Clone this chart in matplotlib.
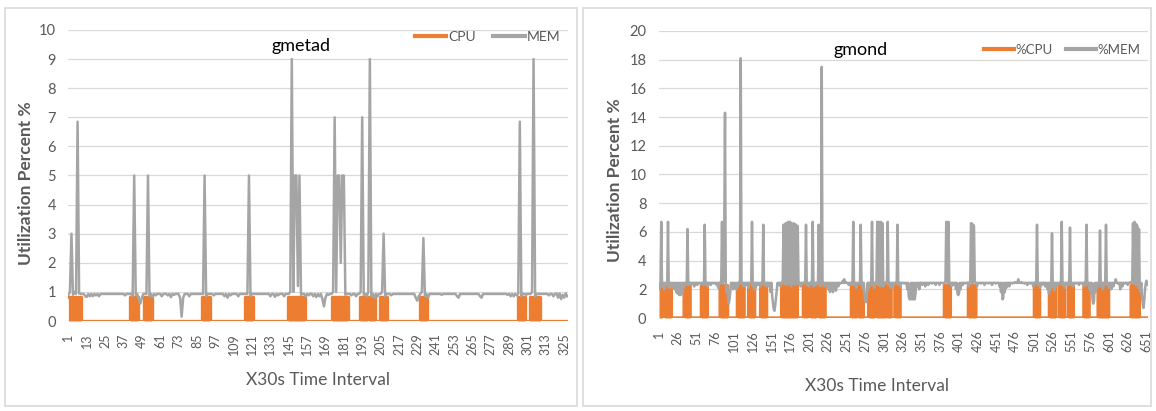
import numpy as np
import matplotlib.pyplot as plt
from matplotlib.patches import Rectangle

plt.rcParams['font.family'] = ['Lato', 'DejaVu Sans']

ORANGE = '#ED7D31'
GRAY = '#A5A5A5'
TXT = '#595959'

# ---- gmetad (left chart) ----
gmetad_n = 327
gmetad_mem_base = 0.93
gmetad_mem_idx = [1, 2, 3, 4, 5, 7, 8, 12, 13, 15, 17, 19, 21, 38, 43, 44, 45, 47, 48, 49, 53, 54,
                  56, 58, 62, 66, 68, 70, 74, 75, 76, 80, 90, 91, 96, 103, 105, 107, 112, 119, 120,
                  133, 136, 138, 142, 146, 147, 148, 149, 150, 151, 152, 153, 156, 158, 161, 163,
                  165, 167, 168, 169, 171, 174, 175, 176, 177, 178, 179, 180, 181, 182, 186, 189,
                  192, 193, 194, 196, 197, 198, 199, 201, 203, 206, 207, 208, 212, 228, 229, 230,
                  232, 233, 234, 236, 245, 255, 256, 270, 271, 288, 290, 292, 294, 296, 297, 300,
                  304, 305, 306, 315, 318, 320, 321, 322, 323, 324, 325, 326, 327]
gmetad_mem_val = [0.9, 1.0, 3.0, 0.9, 1.0, 6.85, 0.95, 0.85, 0.83, 0.85, 0.85, 0.88, 0.85, 0.88,
                  0.85, 5.0, 0.9, 0.75, 0.6, 0.8, 5.0, 0.85, 0.82, 0.88, 0.85, 0.88, 0.82, 0.9, 0.8,
                  0.15, 0.8, 0.85, 5.0, 0.85, 0.88, 0.85, 0.8, 0.88, 0.85, 5.0, 0.85, 0.85, 0.83,
                  0.88, 0.85, 1.0, 9.0, 1.0, 5.0, 5.0, 1.2, 5.0, 0.9, 0.85, 0.88, 0.85, 0.82, 0.85,
                  0.75, 0.5, 0.8, 0.9, 1.0, 7.0, 1.0, 5.0, 5.0, 2.0, 5.0, 5.0, 0.9, 0.88, 0.85, 1.0,
                  7.0, 0.9, 0.85, 1.0, 9.0, 0.85, 0.8, 0.85, 1.0, 3.0, 0.85, 0.88, 0.8, 0.7, 0.85,
                  1.0, 2.85, 0.85, 0.8, 0.9, 0.85, 0.8, 0.85, 0.8, 0.9, 0.85, 0.85, 0.88, 6.85, 0.85,
                  0.9, 1.0, 9.0, 0.85, 0.88, 0.85, 0.95, 0.8, 0.95, 0.75, 0.9, 0.8, 0.95, 0.85]
gmetad_cpu_level = 0.83
gmetad_cpu_start = [1, 42, 51, 89, 117, 145, 174, 192, 198, 205, 231, 295, 303]
gmetad_cpu_end = [9, 46, 55, 93, 121, 155, 183, 196, 201, 209, 235, 299, 309]
gmetad_ticks = list(range(1, 326, 12))

# ---- gmond (right chart) ----
gmond_n = 653
gmond_mem_base = 2.45
gmond_mem_idx = [1, 2, 3, 4, 5, 6, 8, 10, 12, 13, 14, 16, 18, 20, 22, 24, 26, 28, 30, 32, 34, 36, 38,
                 39, 40, 44, 48, 52, 56, 60, 62, 63, 66, 70, 74, 78, 80, 83, 84, 85, 86, 87, 88, 89,
                 90, 91, 92, 93, 94, 95, 96, 98, 100, 102, 104, 106, 109, 110, 111, 114, 117, 120,
                 124, 125, 126, 128, 130, 133, 136, 139, 140, 141, 144, 148, 150, 152, 153, 154, 155,
                 156, 157, 158, 160, 163, 166, 167, 168, 169, 170, 171, 172, 173, 174, 175, 176, 177,
                 178, 179, 180, 181, 182, 183, 184, 185, 186, 187, 190, 193, 196, 197, 198, 201, 204,
                 205, 206, 207, 210, 213, 214, 215, 216, 217, 218, 219, 221, 224, 227, 229, 231, 233,
                 235, 237, 240, 243, 246, 248, 250, 254, 258, 259, 260, 261, 264, 267, 269, 270, 271,
                 273, 275, 276, 277, 278, 280, 283, 284, 285, 286, 288, 290, 291, 292, 293, 294, 295,
                 296, 297, 298, 299, 300, 302, 305, 306, 307, 310, 313, 316, 318, 319, 320, 323, 328,
                 332, 334, 335, 336, 338, 340, 342, 343, 345, 348, 352, 356, 360, 365, 370, 375, 380,
                 383, 384, 385, 386, 387, 388, 391, 394, 397, 399, 400, 401, 403, 406, 410, 414, 416,
                 417, 418, 419, 420, 421, 422, 425, 430, 435, 440, 445, 450, 455, 457, 459, 460, 462,
                 464, 468, 472, 476, 480, 484, 488, 492, 496, 500, 504, 505, 506, 509, 512, 516, 519,
                 521, 523, 524, 525, 526, 528, 531, 534, 537, 538, 539, 542, 546, 548, 549, 550, 553,
                 557, 561, 565, 568, 570, 571, 572, 575, 577, 579, 580, 581, 583, 585, 588, 589, 590,
                 593, 595, 596, 597, 598, 601, 604, 607, 610, 613, 616, 619, 622, 626, 630, 632, 633,
                 634, 635, 636, 637, 638, 639, 640, 641, 642, 643, 645, 646, 647, 648, 649, 650, 651,
                 652, 653]
gmond_mem_val = [2.3, 2.0, 2.5, 6.7, 2.2, 2.4, 2.0, 2.3, 2.5, 6.7, 2.1, 2.2, 2.1, 2.3, 2.0, 1.8, 1.7,
                 1.6, 1.6, 1.7, 2.1, 2.3, 2.4, 6.2, 2.3, 2.3, 2.2, 2.3, 2.4, 2.3, 6.5, 2.3, 2.2, 2.3,
                 2.4, 2.3, 2.1, 2.4, 2.6, 6.7, 2.4, 2.6, 6.0, 14.3, 2.5, 1.8, 2.2, 1.5, 1.0, 1.3, 1.8,
                 2.2, 2.0, 2.1, 2.0, 2.2, 2.6, 18.1, 2.4, 2.2, 2.3, 2.1, 2.5, 6.7, 2.2, 2.0, 2.1, 2.3,
                 2.2, 2.6, 6.5, 2.3, 2.2, 2.2, 1.8, 1.5, 1.0, 0.6, 0.5, 0.9, 1.4, 1.9, 2.3, 2.2, 2.6,
                 6.5, 2.4, 6.5, 6.6, 2.3, 6.6, 6.7, 2.4, 6.6, 6.7, 2.2, 6.6, 6.5, 2.4, 6.6, 2.3, 6.5,
                 6.5, 2.4, 6.4, 2.3, 2.2, 2.4, 2.6, 6.5, 2.3, 2.2, 2.4, 2.6, 6.7, 2.2, 2.3, 2.5, 6.5,
                 2.4, 2.2, 2.6, 17.5, 2.5, 2.2, 2.3, 2.0, 1.8, 2.0, 1.8, 2.1, 1.9, 2.2, 2.4, 2.6, 2.7,
                 2.5, 2.3, 2.3, 2.6, 6.7, 2.3, 2.1, 2.4, 2.5, 6.5, 2.3, 2.0, 1.6, 1.2, 1.1, 1.5, 2.0,
                 2.3, 2.6, 6.7, 2.3, 2.1, 2.5, 2.6, 6.7, 2.3, 6.7, 6.6, 2.2, 6.7, 2.4, 6.6, 2.2, 2.4,
                 2.6, 6.7, 2.3, 2.1, 2.2, 2.4, 2.6, 6.5, 2.3, 2.2, 2.4, 2.0, 1.5, 1.3, 1.3, 1.3, 1.3,
                 1.3, 1.7, 2.2, 2.0, 2.3, 2.2, 2.3, 2.4, 2.3, 2.3, 2.4, 2.6, 6.7, 6.6, 2.4, 6.7, 2.5,
                 2.2, 2.3, 2.0, 1.7, 1.6, 1.7, 2.0, 2.3, 2.4, 2.2, 2.6, 6.6, 6.6, 2.4, 6.5, 6.4, 2.5,
                 2.2, 2.4, 2.3, 2.4, 2.3, 2.4, 2.2, 1.8, 1.3, 1.4, 1.8, 2.1, 2.2, 2.4, 2.5, 2.7, 2.5,
                 2.4, 2.3, 2.4, 2.2, 2.6, 6.5, 2.3, 2.1, 2.3, 2.2, 2.0, 1.7, 2.0, 2.4, 5.9, 2.2, 1.9,
                 2.2, 2.3, 2.6, 6.7, 2.3, 2.1, 2.3, 2.6, 6.3, 2.3, 2.2, 2.4, 2.3, 2.4, 2.2, 2.6, 6.5,
                 2.3, 2.0, 1.7, 1.3, 1.0, 1.2, 1.8, 2.1, 2.4, 6.1, 2.2, 2.0, 2.3, 2.6, 6.5, 2.3, 2.1,
                 2.0, 2.2, 2.7, 2.4, 2.0, 2.2, 2.4, 2.3, 2.5, 2.6, 6.6, 2.4, 6.7, 6.6, 2.3, 6.5, 6.4,
                 2.1, 6.2, 2.0, 1.8, 1.5, 1.0, 0.7, 1.2, 2.0, 2.4, 2.6, 2.3, 2.4]
gmond_cpu_level = 2.25
gmond_cpu_start = [1, 9, 35, 58, 83, 106, 121, 137, 165, 194, 203, 214, 258, 267, 281, 291, 305,
                   316, 382, 414, 502, 522, 535, 547, 568, 587, 631]
gmond_cpu_end = [5, 17, 42, 65, 92, 114, 128, 144, 185, 199, 210, 222, 264, 273, 288, 303, 310,
                 322, 389, 423, 508, 529, 541, 553, 574, 600, 641]
gmond_ticks = list(range(1, 652, 25))

W, H = 1156, 411
fig = plt.figure(figsize=(W / 100, H / 100), dpi=100)

# panel frames
for x0, x1 in [(5, 577), (583, 1151)]:
    fig.patches.append(Rectangle((x0 / W, 5 / H), (x1 - x0) / W, 398 / H, transform=fig.transFigure,
                                 fill=False, edgecolor='#d9d9d9', lw=1.2))


def build(n, base, idx, val, level, starts, ends):
    x = np.arange(1, n + 1)
    mem = np.full(n, base)
    mem[np.array(idx) - 1] = val
    cpu = np.zeros(n)
    for s, e in zip(starts, ends):
        cpu[s - 1:e] = level
    return x, cpu, mem


def draw(ax, x, cpu, mem, ymax, ystep, ticks, xmax):
    ax.fill_between(x, 0, cpu, color=ORANGE, lw=0, zorder=2, step='mid')
    l1, = ax.plot(x, cpu, color=ORANGE, lw=2.4, zorder=3, drawstyle='steps-mid')
    l2, = ax.plot(x, mem, color=GRAY, lw=1.8, zorder=4)
    ax.set_xlim(1, xmax)
    ax.set_ylim(0, ymax)
    ax.set_yticks(np.arange(0, ymax + 0.1, ystep))
    ax.set_xticks(ticks)
    ax.grid(axis='y', color='#d9d9d9', lw=0.9, zorder=0)
    ax.set_axisbelow(True)
    for sp in ax.spines.values():
        sp.set_visible(False)
    ax.tick_params(axis='y', length=0, labelsize=10.5, labelcolor=TXT, pad=9)
    ax.tick_params(axis='x', length=0, labelsize=9, labelcolor=TXT, pad=9, labelrotation=90)
    return l1, l2


x1, cpu1, mem1 = build(gmetad_n, gmetad_mem_base, gmetad_mem_idx, gmetad_mem_val,
                       gmetad_cpu_level, gmetad_cpu_start, gmetad_cpu_end)
x2, cpu2, mem2 = build(gmond_n, gmond_mem_base, gmond_mem_idx, gmond_mem_val,
                       gmond_cpu_level, gmond_cpu_start, gmond_cpu_end)

ax1 = fig.add_axes([68.4 / W, 90 / H, 499.6 / W, 291 / H])
h1 = draw(ax1, x1, cpu1, mem1, 10, 1, gmetad_ticks, 327.5)
ax1.text(0.465, 0.945, 'gmetad', transform=ax1.transAxes, ha='center', va='center', fontsize=13)
leg1 = ax1.legend(h1, ['CPU', 'MEM'], loc='center right', bbox_to_anchor=(0.985, 0.977), ncol=2,
                  frameon=False, fontsize=10, handlelength=2.3, handletextpad=0.15,
                  columnspacing=1.2, borderpad=0, borderaxespad=0)

ax2 = fig.add_axes([659 / W, 93 / H, 489 / W, 287 / H])
h2 = draw(ax2, x2, cpu2, mem2, 20, 2, gmond_ticks, 653)
ax2.text(0.413, 0.935, 'gmond', transform=ax2.transAxes, ha='center', va='center', fontsize=13)
leg2 = ax2.legend(h2, ['%CPU', '%MEM'], loc='center right', bbox_to_anchor=(0.985, 0.934), ncol=2,
                  frameon=False, fontsize=9.5, handlelength=2.3, handletextpad=0.1,
                  columnspacing=1.0, borderpad=0, borderaxespad=0)

for leg in (leg1, leg2):
    for t in leg.get_texts():
        t.set_color(TXT)
    for ln in leg.get_lines():
        ln.set_linewidth(3)
        ln.set_drawstyle('default')

# axis labels
fig.text(26 / W, 1 - 183 / H, 'Utilization Percent %', rotation=90, ha='center', va='center',
         fontsize=12.5, fontweight='bold', color=TXT)
fig.text(615 / W, 1 - 180 / H, 'Utilization Percent %', rotation=90, ha='center', va='center',
         fontsize=12.5, fontweight='bold', color=TXT)
fig.text(318 / W, 1 - 380 / H, 'X30s Time Interval', ha='center', va='center', fontsize=12.5, color=TXT)
fig.text(877 / W, 1 - 386 / H, 'X30s Time Interval', ha='center', va='center', fontsize=12.5, color=TXT)

fig.savefig('out.png', dpi=100)
